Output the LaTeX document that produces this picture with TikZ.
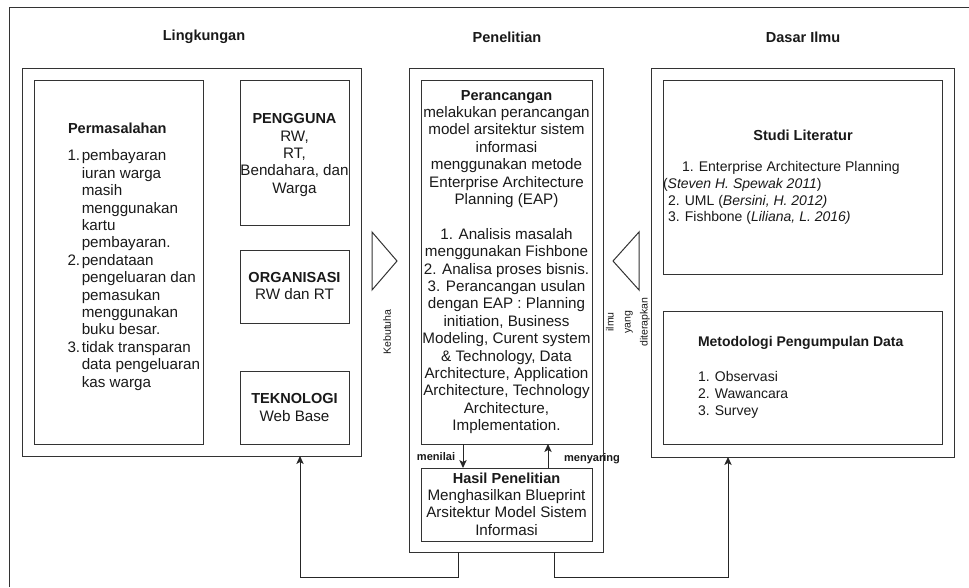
\documentclass[tikz,border=0pt]{standalone}
\usepackage{fontspec}
\setmainfont{Liberation Sans}
\usetikzlibrary{arrows.meta,fit}
\newcommand\fbody{\fontsize{11.4}{13.05}\selectfont}
\newcommand\fbold{\fontsize{10.9}{13.05}\selectfont\bfseries}
\newcommand\fsmall{\fontsize{10.5}{12.75}\selectfont}
\newcommand\ftiny{\fontsize{7.9}{12.75}\selectfont}
\newcommand\flbl{\fontsize{8.3}{10}\selectfont\bfseries}
\newcommand\bt[1]{{\fontsize{10.9}{13.05}\selectfont\bfseries #1}}
\tikzset{
  box/.style={draw=black!80, line width=0.75pt, inner sep=0pt, outer sep=0pt},
  txt/.style={inner sep=0pt, outer sep=0pt, text=black!90},
  shp/.style={draw=black!80, line width=0.75pt, line join=miter},
  arr/.style={draw=black!85, line width=0.75pt, -{Stealth[length=6pt,width=5.5pt,inset=1.5pt]}},
}
\begin{document}
\begin{tikzpicture}[x=0.75pt,y=-0.75pt]
\useasboundingbox (0,0) rectangle (969,587);
% outer frame
\draw[shp] (9,587) -- (9,7) -- (969,7);
% titles
\node[txt,font=\fbold] (tL) at (204,37) {Lingkungan};
\node[txt,font=\fbold] (tC) at (507,37) {Penelitian};
\node[txt,font=\fbold] (tD) at (803,37) {Dasar Ilmu};
% left panel
\node[box, fit={(22,68)(361,456)}] (L) {};
\node[box, fit={(34,80)(203,444)}] (P) {};
\node[txt,font=\fbold,anchor=west] (ptitle) at (68,128) {Permasalahan};
\node[txt,font=\fbody,anchor=west] (plist) at (67.5,270.5) {\begin{tabular}{@{}l@{\hspace{1.2pt}}l@{}}
1.& pembayaran\\
 & iuran warga\\
 & masih\\
 & menggunakan\\
 & kartu\\
 & pembayaran.\\
2.& pendataan\\
 & pengeluaran dan\\
 & pemasukan\\
 & menggunakan\\
 & buku besar.\\
3.& tidak transparan\\
 & data pengeluaran\\
 & kas warga
\end{tabular}};
\node[box, fit={(240,80)(349,225)}] (U) {};
\node[txt,font=\fbody,align=center] (utext) at (294.5,155) {\bt{PENGGUNA}\\RW,\\RT,\\Bendahara, dan\\Warga};
\node[box, fit={(240,250)(349,323)}] (O) {};
\node[txt,font=\fbody,align=center] (otext) at (294.5,286) {\bt{ORGANISASI}\\RW dan RT};
\node[box, fit={(240,371)(349,444)}] (T) {};
\node[txt,font=\fbody,align=center] (ttext) at (294.5,407.5) {\bt{TEKNOLOGI}\\Web Base};
% right-pointing triangle
\draw[shp] (372,232) -- (397,261) -- (372,290) -- cycle;
\node[txt,font=\ftiny,rotate=90] (keb) at (387,332) {Kebutuha};
% center panel
\node[box, fit={(409,68)(603,552)}] (C) {};
\node[box, fit={(421,80)(592,444)}] (R) {};
\node[txt,font=\fbody,align=center] (rtext) at (506.5,262) {\bt{Perancangan}\\melakukan perancangan\\model arsitektur sistem\\informasi\\menggunakan metode\\Enterprise Architecture\\Planning (EAP)\\[13.05pt]1. Analisis masalah\\menggunakan Fishbone\\2. Analisa proses bisnis.\\3. Perancangan usulan\\dengan EAP : Planning\\initiation, Business\\Modeling, Curent system\\\& Technology, Data\\Architecture, Application\\Architecture, Technology\\Architecture,\\Implementation.};
\node[box, fit={(421,468)(592,541)}] (H) {};
\node[txt,font=\fbody,align=center] (htext) at (506.5,504) {\bt{Hasil Penelitian}\\Menghasilkan Blueprint\\Arsitektur Model Sistem\\Informasi};
\coordinate (m1) at (463,0);
\coordinate (m2) at (548,0);
\draw[arr] (R.south -| m1) -- (H.north -| m1);
\draw[arr] (H.north -| m2) -- (R.south -| m2);
\node[txt,font=\flbl] (lmen) at (436,457) {menilai};
\node[txt,font=\flbl] (lmsy) at (592,459) {menyaring};
% right panel
\node[box, fit={(651,68)(954,457)}] (D) {};
\node[box, fit={(663,80)(942,274)}] (S) {};
\node[txt,font=\fbold] (stitle) at (803,135) {Studi Literatur};
\node[txt,font=\fsmall,anchor=west] (s1) at (682,168) {1. Enterprise Architecture Planning};
\node[txt,font=\fsmall,anchor=west] (s2) at (663,185) {(\textit{Steven H. Spewak 2011})};
\node[txt,font=\fsmall,anchor=west] (s3) at (668,202) {2. UML (\textit{Bersini, H. 2012)}};
\node[txt,font=\fsmall,anchor=west] (s4) at (668,218) {3. Fishbone (\textit{Liliana, L. 2016)}};
\node[box, fit={(663,311)(942,444)}] (M) {};
\node[txt,font=\fsmall\bfseries,anchor=west] (mtitle) at (698,343) {Metodologi Pengumpulan Data};
\node[txt,font=\fsmall,align=left,anchor=west] (mlist) at (698,395) {1. Observasi\\2. Wawancara\\3. Survey};
% left-pointing triangle
\draw[shp] (639,232) -- (613,261) -- (639,290) -- cycle;
\node[txt,font=\ftiny,align=center,rotate=90] (ilmu) at (628,322) {ilmu\\yang\\diterapkan};
% bottom connectors
\coordinate (b1) at (458,577);
\coordinate (b2) at (300,577);
\coordinate (b3) at (554,577);
\coordinate (b4) at (728,577);
\draw[arr] (C.south -| b1) -- (b1) -- (b2) -- (L.south -| b2);
\draw[arr] (C.south -| b3) -- (b3) -- (b4) -- (D.south -| b4);
\end{tikzpicture}
\end{document}
